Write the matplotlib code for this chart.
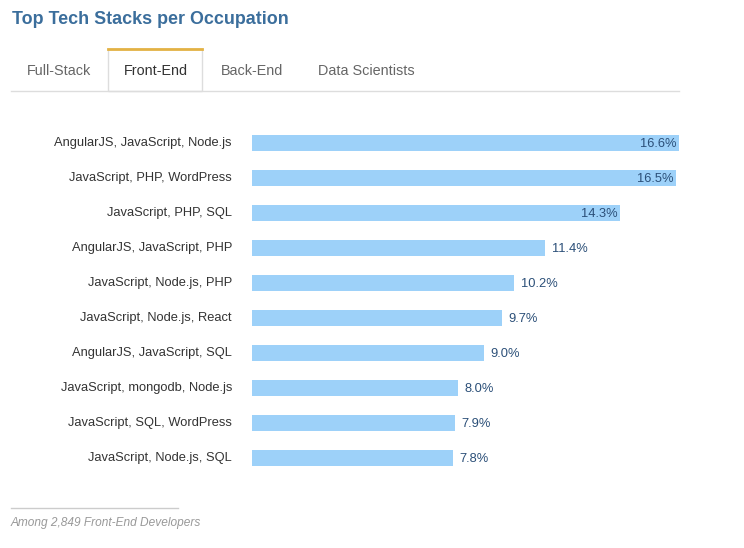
import matplotlib.pyplot as plt
from matplotlib.patches import Rectangle
from matplotlib.lines import Line2D

plt.rcParams['font.family'] = ['Liberation Sans', 'DejaVu Sans']

stacks = [
    "AngularJS, JavaScript, Node.js",
    "JavaScript, PHP, WordPress",
    "JavaScript, PHP, SQL",
    "AngularJS, JavaScript, PHP",
    "JavaScript, Node.js, PHP",
    "JavaScript, Node.js, React",
    "AngularJS, JavaScript, SQL",
    "JavaScript, mongodb, Node.js",
    "JavaScript, SQL, WordPress",
    "JavaScript, Node.js, SQL",
]
shares = [16.6, 16.5, 14.3, 11.4, 10.2, 9.7, 9.0, 8.0, 7.9, 7.8]
tabs = ["Full-Stack", "Front-End", "Back-End", "Data Scientists"]
active_tab = "Front-End"

W, H = 744, 548
fig = plt.figure(figsize=(W / 100, H / 100), dpi=100)


def px(x0, y0, x1, y1):
    # pixel box (top-left origin) -> figure fraction rect
    return [x0 / W, 1 - y1 / H, (x1 - x0) / W, (y1 - y0) / H]


# title
fig.text(12 / W, 1 - 20 / H, "Top Tech Stacks per Occupation", fontsize=12.9,
         fontweight="bold", color="#3b6e9c", va="center", ha="left")

# tabs
tab_x = [27, 124, 221, 318]
tab_box = {"Front-End": (108, 202)}
fig.add_artist(Line2D([11 / W, 679 / W], [1 - 91 / H] * 2, color="#dddddd", lw=1))
for name, x in zip(tabs, tab_x):
    if name == active_tab:
        x0, x1 = tab_box[name]
        fig.add_artist(Rectangle((x0 / W, 1 - 91 / H), (x1 - x0) / W, 42 / H,
                                 facecolor="white", edgecolor="#dddddd", lw=1))
        fig.add_artist(Line2D([x0 / W, x1 / W], [1 - 49 / H] * 2,
                              color="#e3b244", lw=2))
        col = "#333333"
    else:
        col = "#666666"
    fig.text(x / W, 1 - 71 / H, name, fontsize=10.4, color=col,
             va="center", ha="left")

# bars
ax = fig.add_axes(px(252, 125.5, 679, 475.5))
y = list(range(len(stacks)))
ax.barh(y, shares, height=0.46, color="#9dd1f9")
ax.set_xlim(0, 16.6)
ax.set_ylim(len(stacks) - 0.5, -0.5)
ax.axis("off")

for i, (lab, v) in enumerate(zip(stacks, shares)):
    ax.text(-0.78, i - 0.01, lab, ha="right", va="center", fontsize=9.3,
            color="#333333")
    if v >= 14:
        ax.text(v - 0.1, i + 0.04, f"{v:.1f}%", ha="right", va="center",
                fontsize=9.3, color="#2b4f78")
    else:
        ax.text(v + 0.25, i + 0.04, f"{v:.1f}%", ha="left", va="center",
                fontsize=9.3, color="#2b4f78")

# footer
fig.add_artist(Line2D([11 / W, 178 / W], [1 - 508 / H] * 2, color="#cccccc", lw=1))
fig.text(11 / W, 1 - 523 / H, "Among 2,849 Front-End Developers", fontsize=8.6,
         style="italic", color="#999999", va="center", ha="left")

fig.savefig("out.png", dpi=100)
